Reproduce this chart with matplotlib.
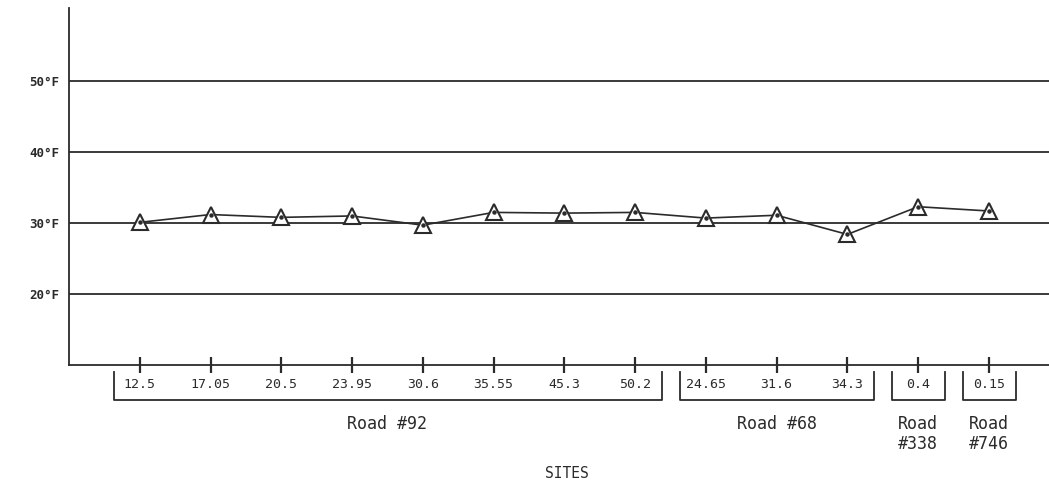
import matplotlib
matplotlib.use("Agg")
import matplotlib.pyplot as plt
import matplotlib.transforms as mtransforms

# ---- data ----
site_labels = ["12.5", "17.05", "20.5", "23.95", "30.6", "35.55", "45.3", "50.2",
               "24.65", "31.6", "34.3", "0.4", "0.15"]
temps_f = [30.1, 31.2, 30.8, 31.0, 29.7, 31.5, 31.4, 31.5, 30.7, 31.1, 28.4, 32.3, 31.7]
groups = ["Road #92", "Road #68", "Road\n#338", "Road\n#746"]
group_sizes = [8, 3, 1, 1]
y_ticks = [20, 30, 40, 50]
y_tick_labels = ["20°F", "30°F", "40°F", "50°F"]
x_title = "SITES"

INK = "#2b2b2b"
MONO = "DejaVu Sans Mono"

fig = plt.figure(figsize=(10.49, 4.87), dpi=100)
ax = fig.add_axes([69 / 1049, 1 - 365 / 487, 1 - 69 / 1049, (365 - 8) / 487])

x = list(range(1, len(temps_f) + 1))
ax.set_xlim(0, 13.85)
ax.set_ylim(10, 60.3)

for yv in y_ticks:
    ax.axhline(yv, color=INK, lw=1.3, zorder=1)

ax.plot(x, temps_f, color=INK, lw=1.2, zorder=2)
ax.plot(x, temps_f, linestyle="none", marker="^", markersize=11,
        markerfacecolor="white", markeredgecolor=INK, markeredgewidth=1.5, zorder=3)
ax.plot(x, temps_f, linestyle="none", marker="o", markersize=2.2,
        color=INK, zorder=4)

for s in ["top", "right"]:
    ax.spines[s].set_visible(False)
for s in ["left", "bottom"]:
    ax.spines[s].set_color(INK)
    ax.spines[s].set_linewidth(1.3)

ax.set_yticks(y_ticks)
ax.set_yticklabels(y_tick_labels, fontsize=9, fontweight="bold",
                   family=MONO, color=INK)
ax.tick_params(axis="y", length=0, pad=7)

ax.set_xticks(x)
ax.set_xticklabels([])
ax.tick_params(axis="x", direction="inout", length=11, width=1.6, color=INK)

trans = mtransforms.blended_transform_factory(ax.transData, fig.transFigure)

# tick labels
for xi, lab in zip(x, site_labels):
    ax.text(xi, 1 - 384 / 487, lab, transform=trans, ha="center", va="center",
            fontsize=9.5, family=MONO, color=INK)

# brackets and group labels
y_top = 1 - 372 / 487
y_bot = 1 - 400 / 487
start = 1
for g, n in zip(groups, group_sizes):
    first = start
    last = start + n - 1
    xl = first - 0.37
    xr = last + 0.38
    ax.plot([xl, xl, xr, xr], [y_top, y_bot, y_bot, y_top], transform=trans,
            color=INK, lw=1.3, clip_on=False)
    gy = 1 - 424 / 487 if "\n" not in g else 1 - 434 / 487
    ax.text((first + last) / 2, gy, g, transform=trans, ha="center", va="center",
            fontsize=12, family=MONO, color=INK, linespacing=1.15)
    start += n

fig.text(567 / 1049, 1 - 473 / 487, x_title, ha="center", va="center",
         fontsize=10.5, family=MONO, color=INK)

fig.savefig("out.png", dpi=100)
